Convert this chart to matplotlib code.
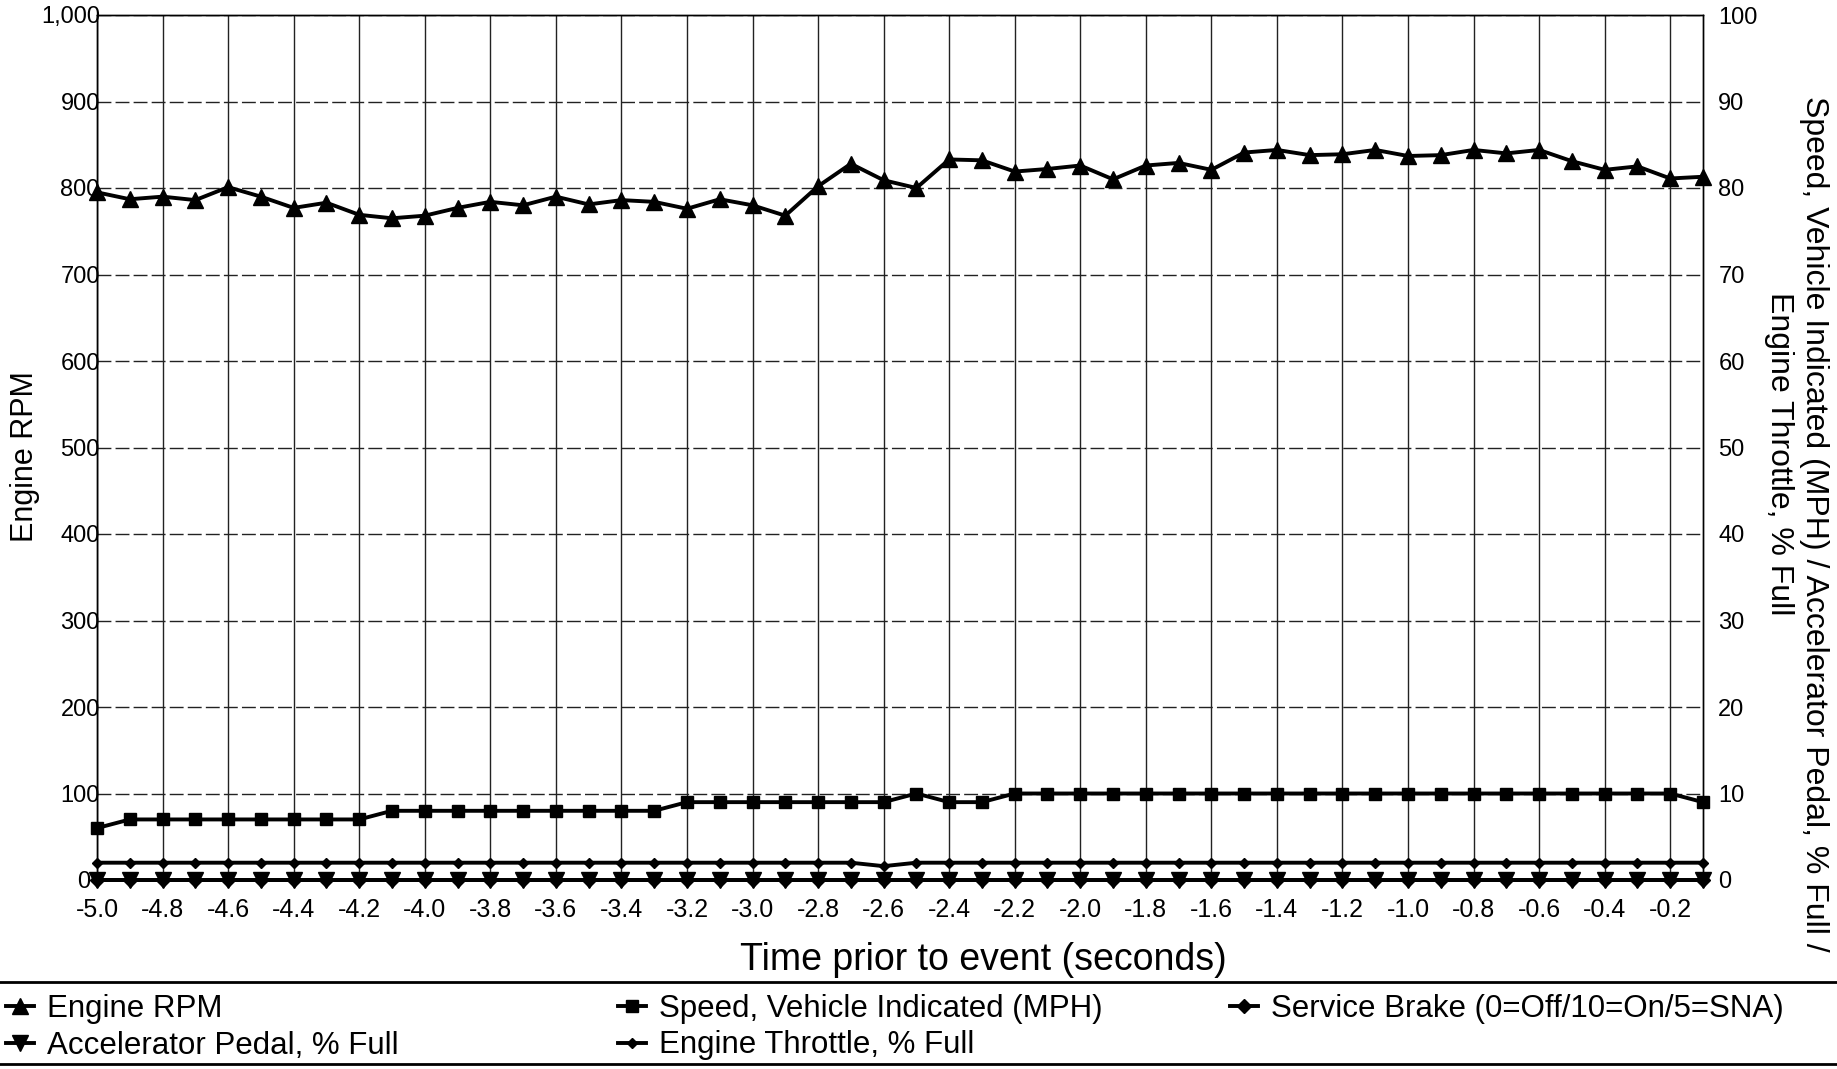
import numpy as np
import matplotlib
matplotlib.use("Agg")
import matplotlib.pyplot as plt
import matplotlib.transforms as mtransforms
from matplotlib.lines import Line2D
from matplotlib.ticker import FuncFormatter

plt.rcParams["font.family"] = ["Liberation Sans", "DejaVu Sans"]

# time axis, seconds before the event
times = np.round(np.arange(-5.0, -0.05, 0.1), 1)

engine_rpm = [
    795, 787, 790, 786, 801, 790, 777, 783, 769, 765,
    768, 777, 784, 780, 790, 781, 786, 784, 776, 787,
    780, 768, 802, 828, 809, 800, 833, 832, 819, 822,
    826, 810, 826, 829, 821, 841, 844, 838, 839, 844,
    837, 838, 844, 840, 844, 831, 821, 825, 811, 813,
]
speed_mph = [
    6, 7, 7, 7, 7, 7, 7, 7, 7, 8,
    8, 8, 8, 8, 8, 8, 8, 8, 9, 9,
    9, 9, 9, 9, 9, 10, 9, 9, 10, 10,
    10, 10, 10, 10, 10, 10, 10, 10, 10, 10,
    10, 10, 10, 10, 10, 10, 10, 10, 10, 9,
]
throttle_pct = [
    2, 2, 2, 2, 2, 2, 2, 2, 2, 2,
    2, 2, 2, 2, 2, 2, 2, 2, 2, 2,
    2, 2, 2, 2, 1.6, 2, 2, 2, 2, 2,
    2, 2, 2, 2, 2, 2, 2, 2, 2, 2,
    2, 2, 2, 2, 2, 2, 2, 2, 2, 2,
]
accel_pct = [0] * 50
service_brake = [0] * 50

W, H = 1837, 1069
fig = plt.figure(figsize=(W / 100, H / 100), dpi=100)
ax = fig.add_axes([97 / W, 1 - 880 / H, 1606 / W, 865 / H])
ax2 = ax.twinx()

ax.set_xlim(-5.0, -0.1)
ax.set_ylim(0, 1000)
ax2.set_ylim(0, 100)

xt = times[::2]
ax.set_xticks(xt)
ax.set_xticklabels([f"{t:.1f}" for t in xt], fontsize=18)
ax.set_yticks(range(0, 1001, 100))
ax.yaxis.set_major_formatter(FuncFormatter(lambda v, p: f"{v:,.0f}"))
ax2.set_yticks(range(0, 101, 10))

ax.tick_params(axis="x", length=0, pad=13)
ax.tick_params(axis="y", length=0, pad=-2, labelsize=17)
ax2.tick_params(axis="y", length=0, pad=11, labelsize=17)

# the "0" label sits just left of the markers at the origin
zero_lbl = ax.yaxis.get_major_ticks()[0].label1
zero_lbl.set_transform(zero_lbl.get_transform()
                       + mtransforms.ScaledTranslation(-7 / 72, 0, fig.dpi_scale_trans))

ax.grid(axis="x", color="#222222", lw=1.0)
ax.grid(axis="y", color="#222222", lw=1.0, linestyle=(0, (10, 3)))
for sp in list(ax.spines.values()) + list(ax2.spines.values()):
    sp.set_color("black")
    sp.set_linewidth(1.0)

lw = 2.8
h_rpm, = ax.plot(times, engine_rpm, color="black", lw=lw, marker="^", ms=11,
                 label="Engine RPM")
h_brake, = ax2.plot(times, service_brake, color="black", lw=lw, marker="D", ms=7,
                    label="Service Brake (0=Off/10=On/5=SNA)")
h_acc, = ax2.plot(times, accel_pct, color="black", lw=lw, marker="v", ms=11,
                  label="Accelerator Pedal, % Full")
h_thr, = ax2.plot(times, throttle_pct, color="black", lw=lw, marker="D", ms=5,
                  label="Engine Throttle, % Full")
h_spd, = ax2.plot(times, speed_mph, color="black", lw=lw, marker="s", ms=9,
                  label="Speed, Vehicle Indicated (MPH)")
for a in (ax, ax2):
    for line in a.get_lines():
        line.set_clip_on(False)

# axis titles
fig.text(25 / W, 1 - 457 / H, "Engine RPM", rotation=90, ha="center", va="center",
         fontsize=22)
fig.text(983 / W, 1 - 960 / H, "Time prior to event (seconds)", ha="center",
         va="center", fontsize=27)
fig.text(1814 / W, 1 - 524 / H,
         "Speed, Vehicle Indicated (MPH) / Accelerator Pedal, % Full /",
         rotation=270, ha="center", va="center", fontsize=23)
fig.text(1779 / W, 1 - 454 / H, "Engine Throttle, % Full",
         rotation=270, ha="center", va="center", fontsize=23)

# legend block below the chart
fig.add_artist(Line2D([0, 1], [1 - 982 / H, 1 - 982 / H], color="black", lw=2))
fig.add_artist(Line2D([0, 1], [1 - 1064 / H, 1 - 1064 / H], color="black", lw=2))
cols = [([h_rpm, h_acc], 0), ([h_spd, h_thr], 612), ([h_brake], 1224)]
for handles, x0 in cols:
    leg = fig.legend(handles=handles, loc="upper left",
                     bbox_to_anchor=(x0 / W, 1 - 988 / H), frameon=False,
                     fontsize=22.5, handlelength=0.9, handletextpad=0.4,
                     labelspacing=0.2, borderaxespad=0, borderpad=0.2)

fig.savefig("out.png", dpi=100)
